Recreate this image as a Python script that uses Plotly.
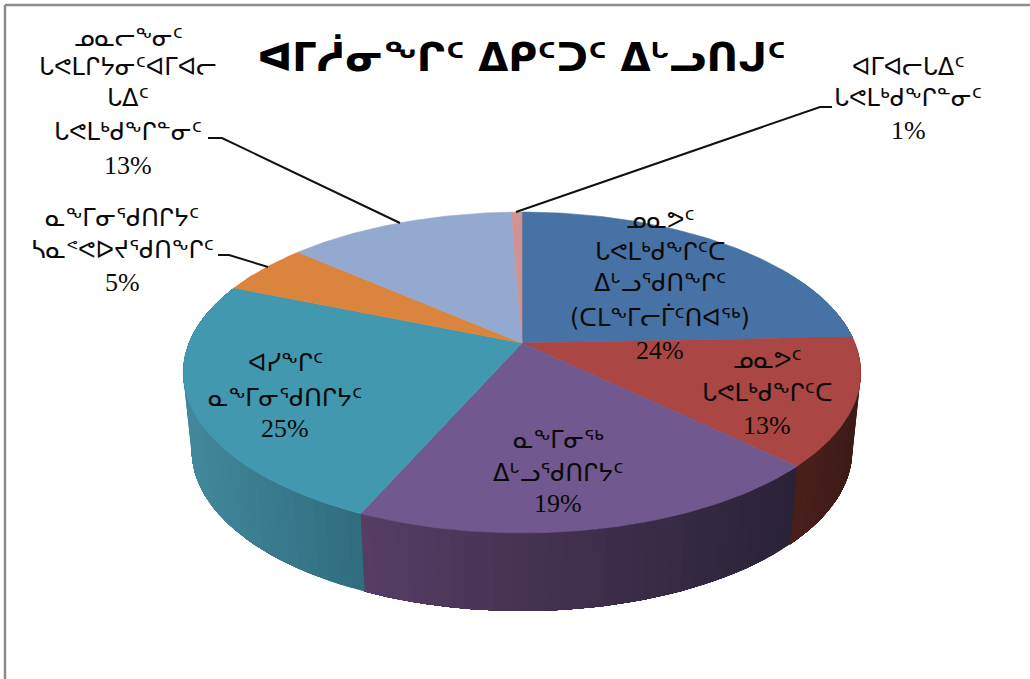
# 3D pie: Inuktitut syllabics, drawn with filled scatter polygons
import numpy as np
import plotly.graph_objects as go

title = 'ᐊᒥᓲᓂᖕᒋᑦ ᐃᑭᑦᑐᑦ ᐃᒡᓗᑎᒍᑦ'
categories = [
    ['ᓄᓇᕗᑦ', 'ᒐᕙᒪᒃᑯᖕᒋᑦᑕ', 'ᐃᒡᓗᕐᑯᑎᖕᒋᑦ', '(ᑕᒪᖕᒥᓕᒦᑦᑎᐊᖅ)'],
    ['ᓄᓇᕗᑦ', 'ᒐᕙᒪᒃᑯᖕᒋᑦᑕ'],
    ['ᓇᖕᒥᓂᖅ', 'ᐃᒡᓗᕐᑯᑎᒋᔭᑦ'],
    ['ᐊᓯᖕᒋᑦ', 'ᓇᖕᒥᓂᕐᑯᑎᒋᔭᑦ'],
    ['ᓇᖕᒥᓂᕐᑯᑎᒋᔭᑦ', 'ᓴᓇᕝᕙᐅᔪᕐᑯᑎᖕᒋᑦ'],
    ['ᓄᓇᓕᖕᓂᑦ', 'ᒐᕙᒪᒋᔭᓂᑦᐊᒥᐊᓕ', 'ᒐᐃᑦ', 'ᒐᕙᒪᒃᑯᖕᒋᓐᓂᑦ'],
    ['ᐊᒥᐊᓕᒐᐃᑦ', 'ᒐᕙᒪᒃᑯᖕᒋᓐᓂᑦ'],
]
values = [24.4, 12.8, 19.4, 24.6, 5.2, 13.0, 0.6]
percent_labels = ['24%', '13%', '19%', '25%', '5%', '13%', '1%']

top_colors = ['#4672a6', '#aa4643', '#71588f', '#4198af', '#db843d', '#93a9cf', '#d19392']
wall_left = ['#3f5f85', '#4a201c', '#573e65', '#43899c', '#b06a30', '#7a8cab', '#a87776']
wall_right = ['#3f5f85', '#3d1b17', '#2a2338', '#2f6d7e', '#b06a30', '#7a8cab', '#a87776']

# label centre x, first-to-last line y
label_x = [660, 767, 558, 285, 122, 128, 908]
label_y = [[220, 252, 283, 317, 350], [360, 393, 425], [440, 473, 503], [363, 398, 428],
           [218, 250, 282], [38, 67, 98, 132, 165], [67, 98, 130]]

# projection of the disc
cx, cy = 522, 343
a, b, k = 333, 155, 0.184
depth, shrink = 78, 0.975


def project(theta):
    s = 1 / (1 + k * np.cos(theta))
    return cx + a * np.sin(theta) * s, cy - b * np.cos(theta) * s


def hex_mix(c1, c2, t):
    r1 = [int(c1[i:i + 2], 16) for i in (1, 3, 5)]
    r2 = [int(c2[i:i + 2], 16) for i in (1, 3, 5)]
    return 'rgb(%d,%d,%d)' % tuple(p + (q - p) * t for p, q in zip(r1, r2))


def polygon(xs, ys, color, width=0.6):
    return go.Scatter(x=xs, y=ys, mode='lines', fill='toself', fillcolor=color,
                      line=dict(color=color, width=width), hoverinfo='skip', showlegend=False)


edges = np.cumsum([0] + values) / sum(values) * 2 * np.pi
fig = go.Figure()

# side walls, front half only; each band runs to the slice end so no seams show
for i in range(len(values)):
    th = np.append(np.arange(edges[i], edges[i + 1], 0.035), edges[i + 1])
    x, y = project(th)
    front = np.cos(th) < 0.5
    if front.sum() < 2:
        continue
    xs, ys = x[front], y[front]
    x0, x1 = xs.min(), xs.max()
    bx = cx + (xs - cx) * shrink
    by = ys + depth
    for j in range(len(xs) - 1):
        t = ((xs[j] + xs[j + 1]) / 2 - x0) / max(x1 - x0, 1)
        fig.add_trace(polygon([*xs[j:], *bx[j:][::-1], xs[j]],
                              [*ys[j:], *by[j:][::-1], ys[j]],
                              hex_mix(wall_left[i], wall_right[i], t), width=0))

# top face
for i in range(len(values)):
    th = np.linspace(edges[i], edges[i + 1], 80)
    x, y = project(th)
    fig.add_trace(polygon([cx, *x, cx], [cy, *y, cy], top_colors[i]))

# leader lines
for lx, ly in [([208, 222, 400], [138, 138, 223]),
               ([218, 229, 268], [255, 255, 267]),
               ([516, 820, 832], [212, 107, 107])]:
    fig.add_trace(go.Scatter(x=lx, y=ly, mode='lines', line=dict(color='#111111', width=2),
                             hoverinfo='skip', showlegend=False))

# slice labels, one annotation per line to hold the line spacing
for i, lines in enumerate(categories):
    rows = lines + [percent_labels[i]]
    for row, yy in zip(rows, label_y[i]):
        pct = row == percent_labels[i]
        fig.add_annotation(x=label_x[i], y=yy, text=row, showarrow=False,
                           font=dict(family='Liberation Serif' if pct else 'DejaVu Sans',
                                     size=26 if pct else 24, color='#0a0a0a'))

fig.add_annotation(x=521, y=57, text='<b>' + title + '</b>', showarrow=False,
                   font=dict(family='DejaVu Sans', size=39, color='#000000'))

# frame
for sx, sy in [([5, 5], [679, 5]), ([5, 1030], [5, 5])]:
    fig.add_trace(go.Scatter(x=sx, y=sy, mode='lines', line=dict(color='#8c8c8c', width=2.5),
                             hoverinfo='skip', showlegend=False))

fig.update_layout(
    width=1030, height=679, margin=dict(l=0, r=0, t=0, b=0),
    paper_bgcolor='white', plot_bgcolor='white', showlegend=False,
    xaxis=dict(range=[0, 1030], visible=False),
    yaxis=dict(range=[679, 0], visible=False),
)
fig.write_html('out.html', config={'displayModeBar': False},
               post_script="document.body.style.margin='0';document.body.style.overflow='hidden';")
